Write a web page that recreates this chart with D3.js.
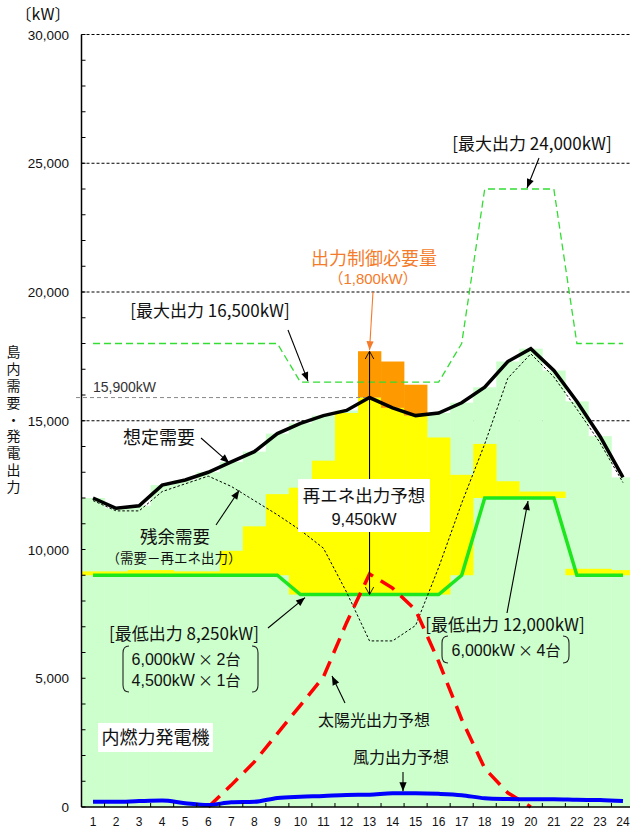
<!DOCTYPE html>
<html>
<head>
<meta charset="utf-8">
<script src="https://cdn.jsdelivr.net/npm/d3@7"></script>
<style>
  body { margin: 0; background: #fff; }
  svg text { font-family: "Noto Sans CJK JP", "Noto Sans", sans-serif; fill: #111; }
  svg text.num { font-family: "Liberation Sans", Arial, "Noto Sans CJK JP", sans-serif; }
  svg tspan.cjk { font-family: "Noto Sans CJK JP", sans-serif; }
</style>
</head>
<body>
<svg id="chart" width="630" height="830"></svg>
<script>
// Hourly supply/demand outlook for the island grid (kW)
const hours = [1,2,3,4,5,6,7,8,9,10,11,12,13,14,15,16,17,18,19,20,21,22,23,24];

// 想定需要
const demand = [12000,11600,11700,12500,12700,13000,13400,13800,14500,14900,15200,15400,
                15900,15500,15200,15300,15700,16300,17300,17800,16950,15750,14400,12800];
// 再エネ出力予想 (solar + wind)
const renewable = [150,150,200,200,150,150,950,1900,3150,4150,5200,7050,
                   9450,9050,8150,6100,3900,2100,650,250,250,250,250,200];
// 残余需要 (需要－再エネ出力)
const residual = [11900,11500,11500,12250,12550,12850,12450,11900,11350,10750,10050,8350,
                  6450,6450,7050,9300,11800,14100,16650,17600,16700,15450,14150,12600];
// 内燃力 最低出力 / 最大出力
const minOutput = [9000,9000,9000,9000,9000,9000,9000,9000,9000,8250,8250,8250,
                   8250,8250,8250,8250,9000,12000,12000,12000,12000,9000,9000,9000];
const maxOutput = [18000,18000,18000,18000,18000,18000,18000,18000,18000,16500,16500,16500,
                   16500,16500,16500,16500,18000,24000,24000,24000,24000,18000,18000,18000];
// 太陽光出力予想
const solar = [null,null,null,null,null,0,850,1750,2850,3950,5050,7150,
               9050,8500,7650,5650,3400,1500,550,0,null,null,null,null];
// 風力出力予想
const wind = [200,200,230,250,150,80,180,200,350,400,430,470,
              480,530,530,510,460,340,310,300,300,280,270,230];

const yTicks = [0,5000,10000,15000,20000,25000,30000];
const gridValues = [15000,20000,25000,30000];
const peakDemand = 15900;   // reference line label
const peakHour = 13;

const svg = d3.select('#chart');
const x = d3.scaleBand().domain(hours).range([81.5, 634.5]).padding(0);
const cx = h => x(h) + x.bandwidth() / 2;
const y = d3.scaleLinear().domain([0, 30000]).range([807, 34.5]);

const rows = hours.map((h, i) => ({
  h, demand: demand[i], ren: renewable[i], residual: residual[i],
  min: minOutput[i], max: maxOutput[i], solar: solar[i], wind: wind[i]
}));

// ---- markers
const defs = svg.append('defs');
function solidHead(id, color) {
  defs.append('marker').attr('id', id)
    .attr('viewBox', '0 0 10 10').attr('refX', 10).attr('refY', 5)
    .attr('markerWidth', 10).attr('markerHeight', 9)
    .attr('markerUnits', 'userSpaceOnUse')
    .attr('orient', 'auto-start-reverse')
    .append('path').attr('d', 'M0,1 L10,5 L0,9 Z').attr('fill', color);
}
solidHead('headBlack', '#000');
solidHead('headOrange', '#f47b2a');
defs.append('marker').attr('id', 'chevron')
  .attr('viewBox', '0 0 10 12').attr('refX', 10).attr('refY', 6)
  .attr('markerWidth', 8).attr('markerHeight', 11)
  .attr('markerUnits', 'userSpaceOnUse')
  .attr('orient', 'auto-start-reverse')
  .append('path').attr('d', 'M0,0.5 L10,6 L0,11.5')
  .attr('fill', 'none').attr('stroke', '#000').attr('stroke-width', 1.1);

// ---- grid lines
svg.append('g').selectAll('line').data(gridValues).join('line')
  .attr('x1', 81.5).attr('x2', 634.5)
  .attr('y1', d => y(d)).attr('y2', d => y(d))
  .attr('stroke', '#000').attr('stroke-width', 1).attr('stroke-dasharray', '3,2');

// ---- stepped fills
const bw = x.bandwidth();
svg.append('g').selectAll('rect').data(rows).join('rect')
  .attr('x', d => x(d.h)).attr('width', bw + 0.3)
  .attr('y', d => y(d.demand)).attr('height', d => y(0) - y(d.demand))
  .attr('fill', '#ccffcc');

svg.append('g').selectAll('rect').data(rows).join('rect')
  .attr('x', d => x(d.h)).attr('width', bw + 0.3)
  .attr('y', d => y(Math.min(d.min + d.ren, d.demand)))
  .attr('height', d => y(d.min) - y(Math.min(d.min + d.ren, d.demand)))
  .attr('fill', '#ffff00');

svg.append('g').selectAll('rect').data(rows.filter(d => d.min + d.ren > d.demand)).join('rect')
  .attr('x', d => x(d.h)).attr('width', bw + 0.3)
  .attr('y', d => y(d.min + d.ren))
  .attr('height', d => y(d.demand) - y(d.min + d.ren))
  .attr('fill', '#ff9900');

// ---- peak demand reference line
svg.append('line')
  .attr('x1', 76).attr('x2', cx(peakHour))
  .attr('y1', y(peakDemand)).attr('y2', y(peakDemand))
  .attr('stroke', '#888').attr('stroke-width', 1).attr('stroke-dasharray', '4,3');
svg.append('text').attr('class', 'num')
  .attr('x', 93).attr('y', y(peakDemand) - 6)
  .attr('font-size', 14).style('fill', '#333')
  .text(d3.format(',')(peakDemand) + 'kW');

// ---- lines
const lineOf = key => d3.line().x(d => cx(d.h)).y(d => y(d[key]));

svg.append('path').datum(rows).attr('d', lineOf('max'))
  .attr('fill', 'none').attr('stroke', '#33dd33').attr('stroke-width', 1.3)
  .attr('stroke-dasharray', '7,4');

svg.append('path').datum(rows).attr('d', lineOf('min'))
  .attr('fill', 'none').attr('stroke', '#1ee61e').attr('stroke-width', 3.5);

svg.append('path').datum(rows).attr('d', lineOf('residual'))
  .attr('fill', 'none').attr('stroke', '#000').attr('stroke-width', 1)
  .attr('stroke-dasharray', '2.5,2');

svg.append('path').datum(rows).attr('d', lineOf('demand'))
  .attr('fill', 'none').attr('stroke', '#000').attr('stroke-width', 3.5)
  .attr('stroke-linejoin', 'miter');

svg.append('path').datum(rows.filter(d => d.solar !== null)).attr('d', lineOf('solar'))
  .attr('fill', 'none').attr('stroke', '#ff0000').attr('stroke-width', 3.5)
  .attr('stroke-dasharray', '16,9');

svg.append('path').datum(rows)
  .attr('d', d3.line().x(d => cx(d.h)).y(d => y(d.wind)).curve(d3.curveMonotoneX))
  .attr('fill', 'none').attr('stroke', '#0000ff').attr('stroke-width', 4);

// ---- axes
const yAxis = svg.append('g');
yAxis.append('line').attr('x1', 81.5).attr('x2', 81.5).attr('y1', y(30000)).attr('y2', y(0))
  .attr('stroke', '#000').attr('stroke-width', 1.5);
yAxis.selectAll('line.tick').data(d3.range(0, 30001, 1000)).join('line')
  .attr('class', 'tick')
  .attr('x1', 81.5).attr('x2', 85.5)
  .attr('y1', d => y(d)).attr('y2', d => y(d))
  .attr('stroke', '#000').attr('stroke-width', 1);
yAxis.selectAll('text').data(yTicks).join('text').attr('class', 'num')
  .attr('x', 69).attr('y', d => y(d) + 5)
  .attr('text-anchor', 'end').attr('font-size', 13.5)
  .text(d => d3.format(',')(d));

const xAxis = svg.append('g');
xAxis.append('line').attr('x1', 81.5).attr('x2', 634.5).attr('y1', y(0)).attr('y2', y(0))
  .attr('stroke', '#000').attr('stroke-width', 1.5);
xAxis.selectAll('line.tick').data(hours.slice(1)).join('line')
  .attr('class', 'tick')
  .attr('x1', d => x(d)).attr('x2', d => x(d))
  .attr('y1', y(0)).attr('y2', y(0) - 4)
  .attr('stroke', '#000').attr('stroke-width', 1);
xAxis.selectAll('text').data(hours).join('text').attr('class', 'num')
  .attr('x', d => cx(d)).attr('y', 826)
  .attr('text-anchor', 'middle').attr('font-size', 12)
  .text(d => d);

svg.append('text').attr('x', 43).attr('y', 20).attr('text-anchor', 'middle')
  .attr('font-size', 16).text('〔kW〕');

// vertical axis title, one character per line
svg.append('text')
  .attr('x', 13.5).attr('y', 345)
  .attr('font-size', 14)
  .style('writing-mode', 'vertical-rl')
  .style('letter-spacing', '2.8px')
  .text('島内需要・発電出力');

// ---- annotations
function arrow(x1, y1, x2, y2, color = '#000', head = 'headBlack') {
  svg.append('line').attr('x1', x1).attr('y1', y1).attr('x2', x2).attr('y2', y2)
    .attr('stroke', color).attr('stroke-width', 1.1)
    .attr('marker-end', `url(#${head})`);
}
function label(t, xx, yy, size, color = '#111', cls = null) {
  return svg.append('text').attr('class', cls).attr('x', xx).attr('y', yy)
    .attr('text-anchor', 'middle').attr('font-size', size).style('fill', color).text(t);
}
// unit-count line: "<capacity>kW × <n>台"
function unitLabel(kw, n, xx, yy) {
  const t = svg.append('text').attr('class', 'num').attr('x', xx).attr('y', yy)
    .attr('text-anchor', 'middle').attr('font-size', 16);
  t.append('tspan').text(d3.format(',')(kw) + 'kW');
  t.append('tspan').attr('class', 'cjk').attr('font-size', 15).text(' × ');
  t.append('tspan').text(n);
  t.append('tspan').attr('class', 'cjk').attr('font-size', 15).text('台');
}
function bracket(x0, y0, y1, dir) {
  const c = 6 * dir;
  svg.append('path')
    .attr('d', `M${x0 + c},${y0} Q${x0},${y0} ${x0},${y0 + 7} L${x0},${y1 - 7} Q${x0},${y1} ${x0 + c},${y1}`)
    .attr('fill', 'none').attr('stroke', '#222').attr('stroke-width', 1.1);
}

// 想定需要
label('想定需要', 159, 444, 18);
arrow(201, 438, cx(7) - 2, y(13400) + 1);

// 残余需要
label('残余需要', 175, 543, 17.5);
label('（需要－再エネ出力）', 174, 563, 13.5);
arrow(216, 525, cx(7) + 8, y(12300));

// 再エネ出力予想 (vertical arrow spans the renewable bar at the peak hour)
const iPk = hours.indexOf(peakHour);
svg.append('line')
  .attr('x1', cx(peakHour)).attr('x2', cx(peakHour))
  .attr('y1', y(minOutput[iPk])).attr('y2', y(minOutput[iPk] + renewable[iPk]))
  .attr('stroke', '#000').attr('stroke-width', 1.1)
  .attr('marker-start', 'url(#chevron)').attr('marker-end', 'url(#chevron)');
svg.append('rect').attr('x', 298).attr('y', 479).attr('width', 132).attr('height', 53).attr('fill', '#fff');
label('再エネ出力予想', 364, 502, 17.5);
label(d3.format(',')(renewable[iPk]) + 'kW', 364, 525, 16.5, '#111', 'num');

// 出力制御必要量
const curtail = minOutput[iPk] + renewable[iPk] - demand[iPk];
label('出力制御必要量', 374, 264.5, 18, '#f47b2a');
label('（' + d3.format(',')(curtail) + 'kW）', 373, 284, 15, '#f47b2a', 'num');
arrow(373, 292, cx(peakHour), y(minOutput[iPk] + renewable[iPk]) - 1, '#f47b2a', 'headOrange');

// 最大出力
label('[最大出力 16,500kW]', 210, 317, 17);
arrow(288, 330, 308, y(16500) - 1);
label('[最大出力 24,000kW]', 532, 150, 17);
arrow(539, 158, 527, y(24000) - 1);

// 最低出力 8,250kW
label('[最低出力 8,250kW]', 184, 640, 17);
unitLabel(6000, 2, 186, 665);
unitLabel(4500, 1, 186, 686);
bracket(123, 646, 692, 1);
bracket(258, 646, 692, -1);
arrow(268, 628, 305, y(8250) + 3);

// 最低出力 12,000kW
label('[最低出力 12,000kW]', 505, 631, 17);
unitLabel(6000, 4, 506, 656);
bracket(442, 636, 663, 1);
bracket(569, 636, 663, -1);
arrow(507, 613, 528, y(12000) + 3);

// 太陽光出力予想
label('太陽光出力予想', 374, 726, 16);
arrow(345, 703, 332, 676);

// 風力出力予想
label('風力出力予想', 401, 763, 16);
arrow(403, 772, 403, y(530) - 2);

// 内燃力発電機
svg.append('rect').attr('x', 98).attr('y', 723).attr('width', 115).attr('height', 29).attr('fill', '#fff');
label('内燃力発電機', 155.5, 744, 18);
</script>
</body>
</html>
